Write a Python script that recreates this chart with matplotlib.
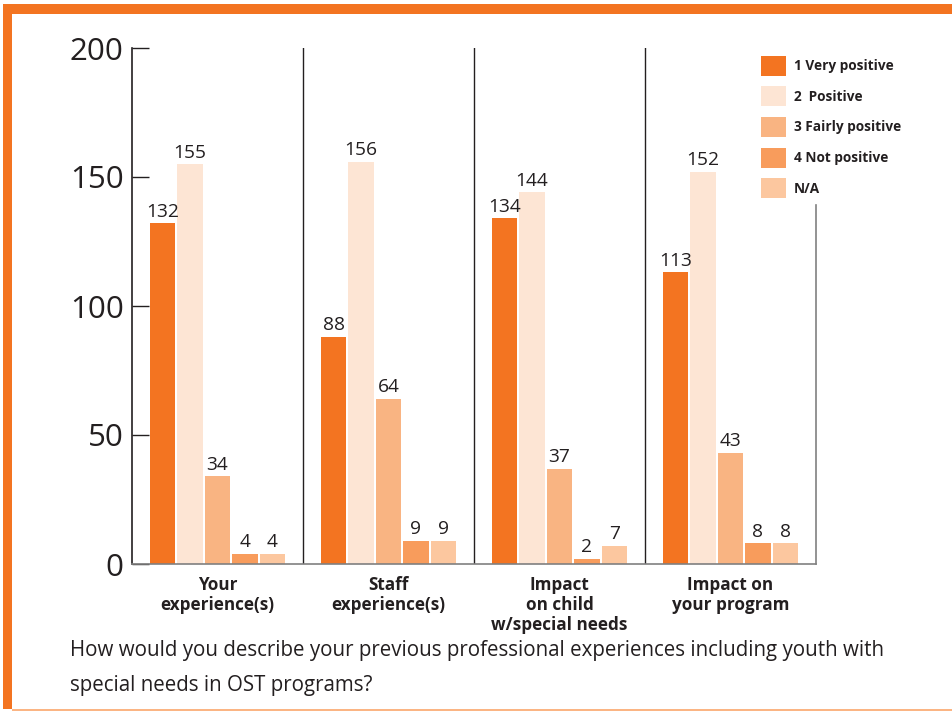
import matplotlib
matplotlib.use("Agg")
import matplotlib.pyplot as plt
from matplotlib.patches import Rectangle
import numpy as np

categories = ["Your\nexperience(s)", "Staff\nexperience(s)", "Impact\non child\nw/special needs", "Impact on\nyour program"]
series_names = ["1 Very positive", "2  Positive", "3 Fairly positive", "4 Not positive", "N/A"]
very_positive = [132, 88, 134, 113]
positive = [155, 156, 144, 152]
fairly_positive = [34, 64, 37, 43]
not_positive = [4, 9, 2, 8]
na = [4, 9, 7, 8]
series_values = [very_positive, positive, fairly_positive, not_positive, na]
colors = ["#F37421", "#FDE5D4", "#F9B482", "#F89C5C", "#FCC79F"]
yticks = [0, 50, 100, 150, 200]
caption = "How would you describe your previous professional experiences including youth with\nspecial needs in OST programs?"

plt.rcParams['font.family'] = ['Open Sans', 'DejaVu Sans']

W, H = 953, 711
fig = plt.figure(figsize=(W / 100, H / 100), dpi=100)

# decorative frame
orange = "#F37421"
fig.add_artist(Rectangle((3 / W, 1 - 14 / H), 1 - 3 / W, 10 / H, transform=fig.transFigure, color=orange, lw=0))
fig.add_artist(Rectangle((3 / W, 1 - 709 / H), 9 / W, (709 - 4) / H, transform=fig.transFigure, color=orange, lw=0))
fig.add_artist(Rectangle((12 / W, 1 - 711 / H), 1 - 12 / W, 2 / H, transform=fig.transFigure, color="#FBB584", lw=0))

ax = fig.add_axes([132 / W, 1 - 564 / H, (816 - 132) / W, (564 - 48) / H])

n = len(categories)
step = 27.5 / 171
width = 25.5 / 171
centers = np.arange(n) + 0.5
for j, (vals, col, name) in enumerate(zip(series_values, colors, series_names)):
    xs = centers + (j - 2) * step
    ax.bar(xs, vals, width=width, color=col, label=name, linewidth=0)
    for x, v in zip(xs, vals):
        ax.text(x, v + 1.0, str(v), ha="center", va="bottom", fontsize=13.8, color="#231F20")

for sep in range(1, n):
    ax.axvline(sep, color="#231F20", lw=1.0)

ax.set_xlim(0, n)
ax.set_ylim(0, 200)
ax.set_yticks(yticks)
ax.set_yticklabels([str(t) for t in yticks], fontsize=22.5, color="#231F20")
ax.tick_params(axis="y", direction="in", length=12, width=1, pad=6, color="#231F20")
ax.set_xticks(centers)
ax.set_xticklabels(categories, fontsize=12.3, fontweight="bold", color="#231F20", linespacing=1.12)
ax.tick_params(axis="x", length=0, pad=9)

ax.spines["top"].set_visible(False)
ax.spines["left"].set_color("#231F20")
ax.spines["bottom"].set_color("#808080")
ax.spines["right"].set_color("#808080")
ax.spines["right"].set_bounds(0, 139)
for s in ax.spines.values():
    s.set_linewidth(1.2)

leg = ax.legend(loc="upper left", bbox_to_anchor=(750 / W, 1 - 45 / H), bbox_transform=fig.transFigure,
                frameon=False, fontsize=9.8, handlelength=1.85, handleheight=1.88, labelspacing=0.78,
                handletextpad=0.55, borderpad=0.3)
for t in leg.get_texts():
    t.set_fontweight("bold")
    t.set_color("#231F20")

fig.text(70 / W, 1 - 640 / H, caption, ha="left", va="top", fontsize=14.8, color="#231F20", linespacing=1.85)

fig.savefig("out.png", dpi=100)
